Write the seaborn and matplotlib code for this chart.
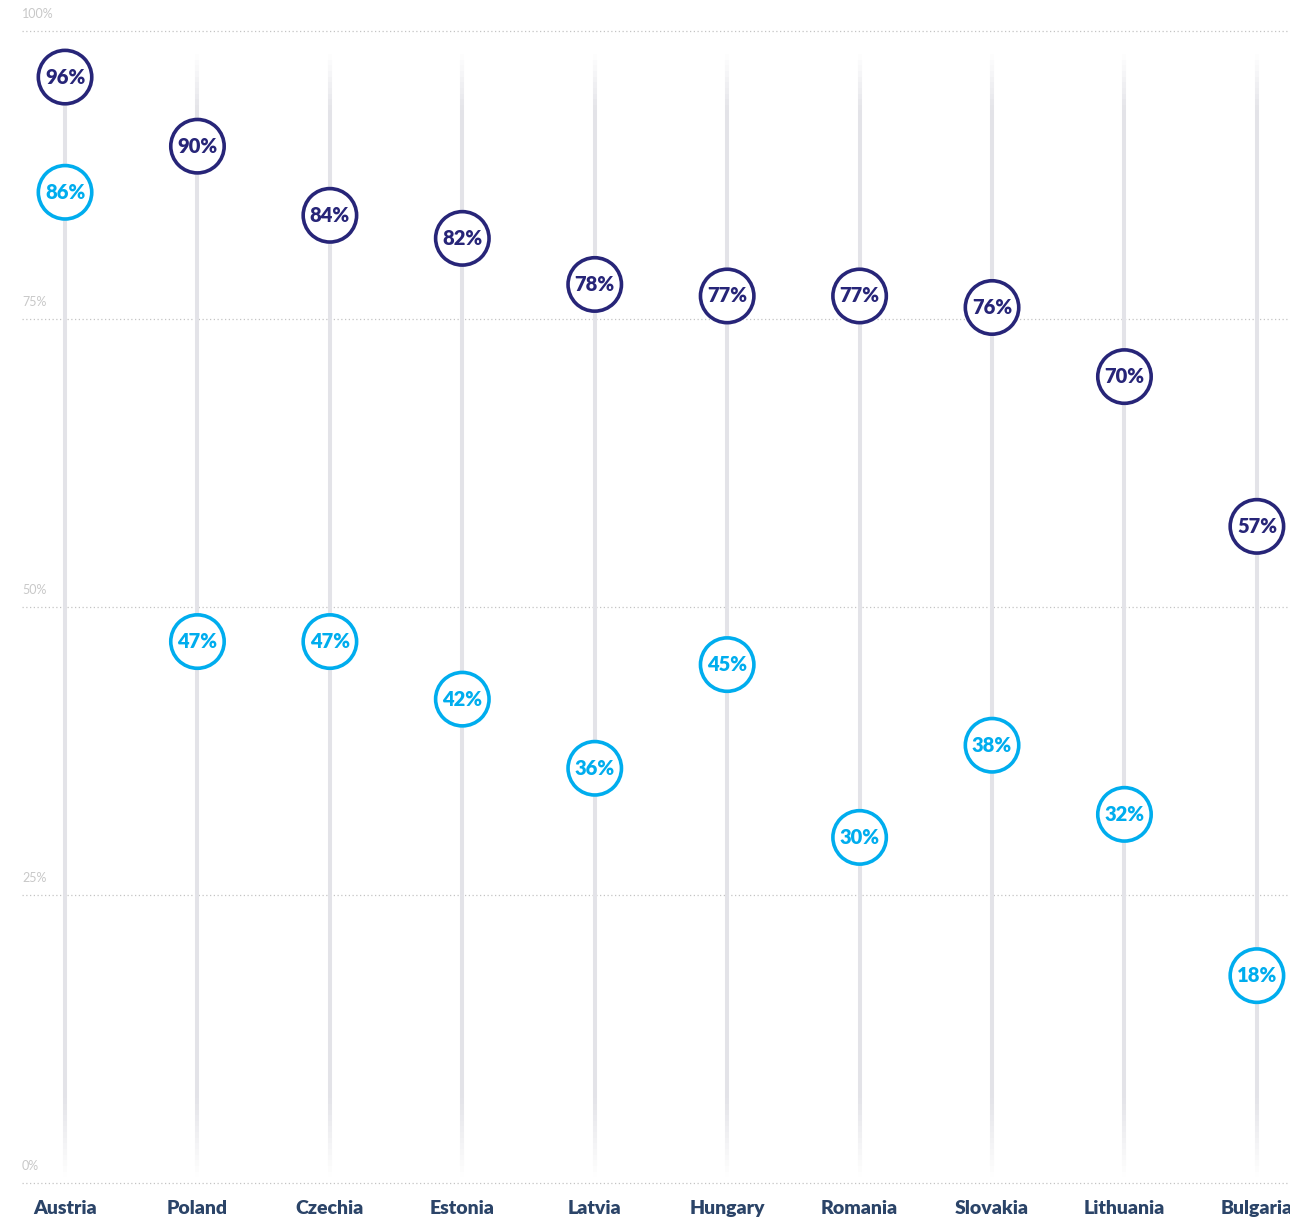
import numpy as np
import pandas as pd
import seaborn as sns
import matplotlib.pyplot as plt
from matplotlib.collections import LineCollection

# data
countries = ['Austria', 'Poland', 'Czechia', 'Estonia', 'Latvia',
             'Hungary', 'Romania', 'Slovakia', 'Lithuania', 'Bulgaria']
dark_values = [96, 90, 84, 82, 78, 77, 77, 76, 70, 57]
light_values = [86, 47, 47, 42, 36, 45, 30, 38, 32, 18]
y_ticks = [0, 25, 50, 75, 100]
y_tick_labels = ['0%', '25%', '50%', '75%', '100%']

DARK = '#272578'
LIGHT = '#00adee'

sns.set_theme(style='white')
plt.rcParams['font.family'] = ['Lato', 'DejaVu Sans']

df = pd.DataFrame({
    'country': countries * 2,
    'value': dark_values + light_values,
    'series': ['dark'] * len(countries) + ['light'] * len(countries),
})
df['x'] = df['country'].map({c: i for i, c in enumerate(countries)})

fig = plt.figure(figsize=(12.9, 12.18), dpi=100)
ax = fig.add_axes([22 / 1290, 35 / 1218, 1 - 22 / 1290, (1183 - 31) / 1218])
ax.set_xlim(-0.325, 9.25)
ax.set_ylim(0, 100)

# dotted gridlines + tick labels
for v, lab in zip(y_ticks, y_tick_labels):
    ax.axhline(v, color='#c4c4c4', lw=0.9, ls=(0, (1, 2)), zorder=1, clip_on=False)
    ax.text(-0.325, v + 1.45, lab, ha='left', va='center', fontsize=9,
            color='#c8c8c8', clip_on=False)

# faded vertical stems
ys = np.linspace(0.5, 98, 200)
for i in range(len(countries)):
    segs = [[(i, ys[k]), (i, ys[k + 1])] for k in range(len(ys) - 1)]
    mid = (ys[:-1] + ys[1:]) / 2
    alpha = np.clip(np.minimum((mid - 0.5) / 7, (98 - mid) / 5), 0, 1)
    cols = np.zeros((len(mid), 4))
    cols[:, :3] = np.array([0.89, 0.89, 0.91])
    cols[:, 3] = alpha
    ax.add_collection(LineCollection(segs, colors=cols, linewidths=2.9, zorder=2))

sns.scatterplot(data=df, x='x', y='value', hue='series',
                palette={'dark': DARK, 'light': LIGHT},
                s=1480, facecolor='white', linewidth=2.6,
                legend=False, ax=ax, zorder=3, clip_on=False)
# seaborn sets edgecolor from hue; keep white fill
for coll in ax.collections[-1:]:
    cols = [DARK] * len(countries) + [LIGHT] * len(countries)
    coll.set_edgecolors(cols)
    coll.set_facecolors('white')

for _, r in df.iterrows():
    ax.text(r['x'], r['value'], f"{r['value']}%", ha='center', va='center',
            fontsize=14.5, fontweight='heavy',
            color=DARK if r['series'] == 'dark' else LIGHT, zorder=4)

for i, c in enumerate(countries):
    ax.text(i, -2.2, c, ha='center', va='center', fontsize=14,
            fontweight='heavy', color='#2b4468', clip_on=False)

ax.set_xticks([])
ax.set_yticks([])
ax.set_xlabel('')
ax.set_ylabel('')
sns.despine(ax=ax, left=True, bottom=True)

fig.savefig('out.png', dpi=100)
